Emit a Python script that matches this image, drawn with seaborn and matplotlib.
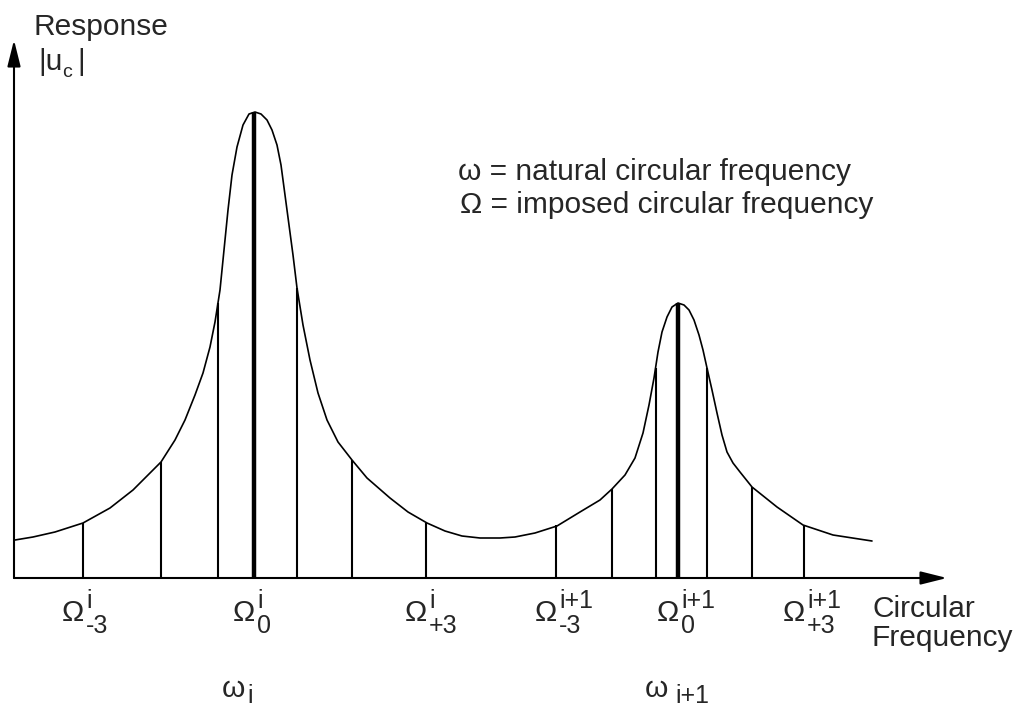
import numpy as np
import pandas as pd
import matplotlib
matplotlib.use("Agg")
import matplotlib.pyplot as plt
import seaborn as sns

# response curve (x = frequency position, y = response height)
curve_freq = [15, 33, 55, 83, 110, 133, 161, 175, 185, 195, 203, 210, 215, 220, 224,
              228, 232, 237, 243, 249, 255, 261, 267, 272, 277, 281, 285, 289, 293,
              297, 303, 310, 318, 327, 338, 352, 367, 390, 408, 427, 445, 462, 480,
              500, 515, 535, 557, 580, 600, 612, 625, 635, 643, 649, 654, 658, 662,
              667, 672, 678, 684, 689, 694, 699, 703, 707, 712, 717, 722, 727, 733,
              740, 752, 777, 803, 833, 872]
curve_resp = [38, 41, 46, 55, 70, 88, 116, 138, 158, 183, 205, 231, 256, 288, 328,
              368, 403, 431, 453, 464, 466, 464, 458, 448, 433, 413, 383, 353, 323,
              290, 253, 218, 185, 158, 136, 118, 100, 80, 66, 55, 47, 42, 40,
              40, 41, 45, 52, 66, 78, 89, 103, 120, 145, 173, 200, 226, 246,
              261, 271, 275, 273, 268, 258, 243, 228, 210, 188, 165, 143, 126, 115,
              106, 91, 71, 53, 43, 37]

# imposed frequencies (stems)
stem_freq = [83, 161, 218, 254, 297, 352, 426, 556, 612, 656, 678, 707, 752, 804]
stem_resp = [55, 116, 275, 466, 290, 118, 55, 53, 89, 210, 275, 210, 91, 53]
stem_natural = [False, False, False, True, False, False, False,
                False, False, False, True, False, False, False]

# labelled stems
label_freq = [83, 254, 426, 556, 678, 804]
label_sup = ["i", "i", "i", "i+1", "i+1", "i+1"]
label_sub = ["-3", "0", "+3", "-3", "0", "+3"]

natural_freq = [245, 668]
natural_sub = ["i", "i+1"]

sns.set_theme(style="white")
plt.rcParams["font.family"] = ["Liberation Sans", "DejaVu Sans"]

fig = plt.figure(figsize=(10.16, 7.07), dpi=100)
ax = fig.add_axes([0, 0, 1, 1])
ax.set_xlim(0, 1016)
ax.set_ylim(-129, 578)
ax.axis("off")

df = pd.DataFrame({"freq": curve_freq, "resp": curve_resp})
sns.lineplot(data=df, x="freq", y="resp", sort=False, estimator=None,
             color="black", linewidth=1.2, ax=ax)

stems = pd.DataFrame({"freq": stem_freq, "resp": stem_resp, "nat": stem_natural})
thin = stems[~stems.nat]
thick = stems[stems.nat]
ax.vlines(thin.freq, 0, thin.resp, color="black", linewidth=1.5)
ax.vlines(thick.freq, 0, thick.resp, color="black", linewidth=3.2)

# axes with arrows
arrow = dict(arrowstyle="-|>,head_length=0.8,head_width=0.2", color="black",
             lw=1.5, shrinkA=0, shrinkB=0, mutation_scale=20)
ax.annotate("", xy=(947, 0), xytext=(14, 0), arrowprops=arrow)
ax.annotate("", xy=(14, 538), xytext=(14, 0), arrowprops=arrow)

fs = 21.5
ax.text(33, 543, "Response", fontsize=fs, va="baseline", ha="left")
ax.text(38, 508, "|u", fontsize=fs, va="baseline", ha="left")
ax.text(62, 501, "c", fontsize=14, va="baseline", ha="left")
ax.text(77, 508, "|", fontsize=fs, va="baseline", ha="left")

ax.text(458, 406, "\u03c9 = natural circular frequency", fontsize=fs, va="center", ha="left")
ax.text(460, 373, "\u03a9 = imposed circular frequency", fontsize=fs, va="center", ha="left")

for x, sup, sub in zip(label_freq, label_sup, label_sub):
    ax.text(x + 1, -35, "\u03a9", fontsize=fs, va="center", ha="right")
    ax.text(x + 3, -23, sup, fontsize=18, va="center", ha="left")
    ax.text(x + 3, -48, sub, fontsize=18, va="center", ha="left")

for x, sub in zip(natural_freq, natural_sub):
    ax.text(x, -111, "\u03c9", fontsize=fs, va="center", ha="right")
    ax.text(x + (2 if sub == "i" else 7), -118, sub, fontsize=18, va="center", ha="left")

ax.text(872, -39, "Circular", fontsize=fs, va="baseline", ha="left")
ax.text(872, -68, "Frequency", fontsize=fs, va="baseline", ha="left")

plt.savefig("out.png", dpi=100)
